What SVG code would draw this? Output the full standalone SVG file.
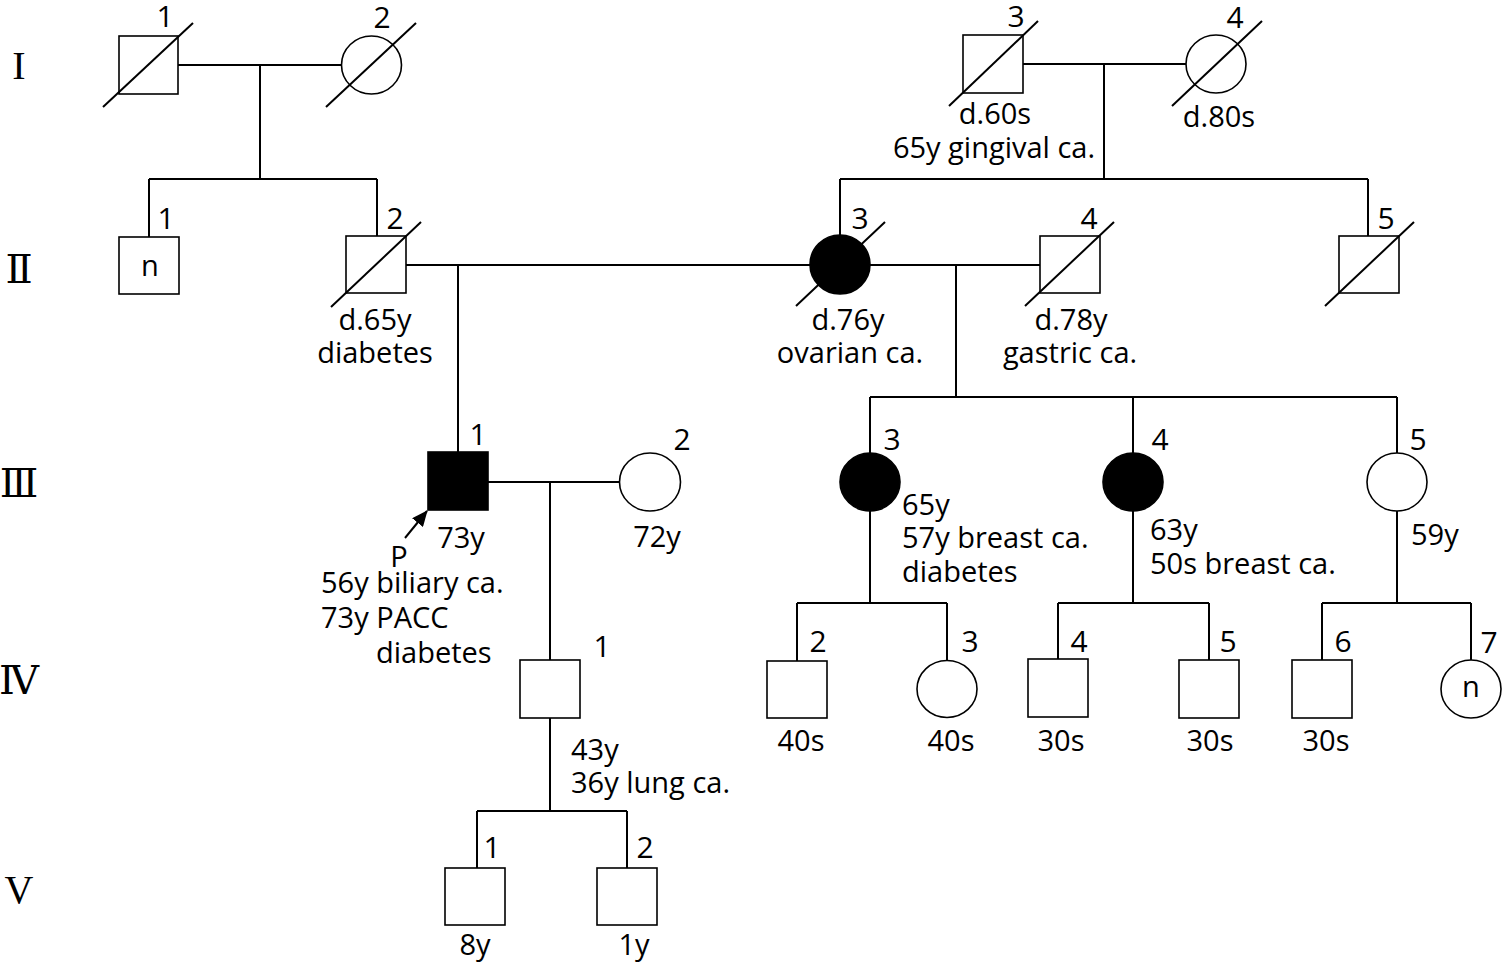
<svg xmlns="http://www.w3.org/2000/svg" width="1502" height="964" viewBox="0 0 1502 964">
<style>
.ln{stroke:#000;stroke-width:2;fill:none}
.sym{stroke:#000;stroke-width:1.6;fill:#fff}
.aff{stroke:#000;stroke-width:1.6;fill:#000}
.sl{stroke:#000;stroke-width:2}
.t{font-family:"Open Sans","Liberation Sans",sans-serif;font-size:29px;fill:#000}
.n{font-family:"Open Sans","Liberation Sans",sans-serif;font-size:30px;fill:#000;text-anchor:middle}
.m{text-anchor:middle}
.r{font-family:"Liberation Serif","DejaVu Serif",serif;font-size:40px;fill:#000;text-anchor:middle}
</style>
<defs>
<marker id="ah" markerWidth="16" markerHeight="14" refX="15" refY="7" orient="auto" markerUnits="userSpaceOnUse">
<path d="M0,0 L16,7 L0,14 z" fill="#000"/>
</marker>
</defs>
<rect width="1502" height="964" fill="#fff"/>
<g id="generations">
<text class="r" x="19" y="79">I</text>
<text class="r" x="19" y="283">Ⅱ</text>
<text class="r" x="19" y="497">Ⅲ</text>
<text class="r" x="19" y="694">Ⅳ</text>
<text class="r" x="19" y="903">V</text>
</g>
<g id="connectors">
<path class="ln" d="M178,65 H341 M260,65 V179 M149,179 H377 M149,179 V237 M377,179 V236"/>
<path class="ln" d="M1023,64 H1186 M1104,64 V179 M840,179 H1368 M840,179 V235 M1368,179 V236"/>
<path class="ln" d="M406,265 H810 M458,265 V452"/>
<path class="ln" d="M870,265 H1040 M956,265 V397 M870,397 H1397 M870,397 V453 M1133,397 V453 M1397,397 V453"/>
<path class="ln" d="M488,482 H620 M550,482 V660"/>
<path class="ln" d="M870,511 V603 M797,603 H947 M797,603 V661 M947,603 V660"/>
<path class="ln" d="M1133,511 V603 M1058,603 H1209 M1058,603 V659 M1209,603 V660"/>
<path class="ln" d="M1397,511 V603 M1322,603 H1471 M1322,603 V660 M1471,603 V660"/>
<path class="ln" d="M550,718 V811 M477,811 H627 M477,811 V868 M627,811 V868"/>
</g>
<g id="I-1"><rect class="sym" x="119" y="36" width="59" height="58"/><line class="sl" x1="103" y1="107" x2="193" y2="23"/><text class="n" x="165" y="27">1</text></g>
<g id="I-2"><ellipse class="sym" cx="371.5" cy="65" rx="30" ry="29"/><line class="sl" x1="326" y1="107" x2="416" y2="23"/><text class="n" x="382" y="28">2</text></g>
<g id="I-3"><rect class="sym" x="963" y="35" width="60" height="58"/><line class="sl" x1="949" y1="106" x2="1038" y2="21"/><text class="n" x="1016" y="27">3</text>
<text class="t m" x="995" y="124">d.60s</text><text class="t m" x="994" y="158">65y gingival ca.</text></g>
<g id="I-4"><ellipse class="sym" cx="1216" cy="64" rx="30" ry="29"/><line class="sl" x1="1172" y1="106" x2="1262" y2="21"/><text class="n" x="1235" y="28">4</text>
<text class="t m" x="1219" y="127">d.80s</text></g>
<g id="II-1"><rect class="sym" x="119" y="237" width="60" height="57"/><text class="t m" x="150" y="276">n</text><text class="n" x="166" y="229">1</text></g>
<g id="II-2"><rect class="sym" x="346" y="236" width="60" height="57"/><line class="sl" x1="331" y1="307" x2="421" y2="222"/><text class="n" x="395" y="229">2</text>
<text class="t m" x="375" y="330">d.65y</text><text class="t m" x="375" y="363">diabetes</text></g>
<g id="II-3"><ellipse class="aff" cx="840" cy="264.5" rx="30" ry="29.5"/><line class="sl" x1="796" y1="306" x2="885" y2="222"/><text class="n" x="860" y="229">3</text>
<text class="t m" x="848" y="330">d.76y</text><text class="t m" x="850" y="363">ovarian ca.</text></g>
<g id="II-4"><rect class="sym" x="1040" y="236" width="60" height="57"/><line class="sl" x1="1025" y1="306" x2="1114" y2="222"/><text class="n" x="1089" y="229">4</text>
<text class="t m" x="1071" y="330">d.78y</text><text class="t m" x="1070" y="363">gastric ca.</text></g>
<g id="II-5"><rect class="sym" x="1339" y="236" width="60" height="57"/><line class="sl" x1="1325" y1="306" x2="1414" y2="222"/><text class="n" x="1386" y="229">5</text></g>
<g id="III-1"><rect class="aff" x="428" y="452" width="60" height="58"/><text class="n" x="478" y="445">1</text>
<text class="t m" x="461" y="548">73y</text>
<line class="sl" x1="405" y1="538" x2="427" y2="511" marker-end="url(#ah)"/>
<text class="t m" x="399" y="567">P</text>
<text class="t" x="321" y="593">56y biliary ca.</text>
<text class="t" x="321" y="628">73y PACC</text>
<text class="t" x="376" y="663">diabetes</text></g>
<g id="III-2"><ellipse class="sym" cx="650" cy="482" rx="30.5" ry="29"/><text class="n" x="682" y="450">2</text><text class="t m" x="657" y="547">72y</text></g>
<g id="III-3"><ellipse class="aff" cx="870" cy="482" rx="30" ry="29"/><text class="n" x="892" y="450">3</text>
<text class="t" x="902" y="515">65y</text><text class="t" x="902" y="548">57y breast ca.</text><text class="t" x="902" y="582">diabetes</text></g>
<g id="III-4"><ellipse class="aff" cx="1133" cy="482" rx="30" ry="29"/><text class="n" x="1160" y="450">4</text>
<text class="t" x="1150" y="540">63y</text><text class="t" x="1150" y="574">50s breast ca.</text></g>
<g id="III-5"><ellipse class="sym" cx="1397" cy="482" rx="30" ry="29"/><text class="n" x="1418" y="450">5</text>
<text class="t" x="1411" y="545">59y</text></g>
<g id="IV-1"><rect class="sym" x="520" y="660" width="60" height="58"/><text class="n" x="602" y="657">1</text>
<text class="t" x="571" y="760">43y</text><text class="t" x="571" y="793">36y lung ca.</text></g>
<g id="IV-2"><rect class="sym" x="767" y="661" width="60" height="57"/><text class="n" x="818" y="652">2</text><text class="t m" x="801" y="751">40s</text></g>
<g id="IV-3"><ellipse class="sym" cx="947" cy="689" rx="30" ry="28.5"/><text class="n" x="970" y="652">3</text><text class="t m" x="951" y="751">40s</text></g>
<g id="IV-4"><rect class="sym" x="1028" y="659" width="60" height="58"/><text class="n" x="1079" y="652">4</text><text class="t m" x="1061" y="751">30s</text></g>
<g id="IV-5"><rect class="sym" x="1179" y="660" width="60" height="58"/><text class="n" x="1228" y="652">5</text><text class="t m" x="1210" y="751">30s</text></g>
<g id="IV-6"><rect class="sym" x="1292" y="660" width="60" height="58"/><text class="n" x="1343" y="652">6</text><text class="t m" x="1326" y="751">30s</text></g>
<g id="IV-7"><ellipse class="sym" cx="1471" cy="689" rx="30" ry="29"/><text class="t m" x="1471" y="697">n</text><text class="n" x="1489" y="653">7</text></g>
<g id="V-1"><rect class="sym" x="445" y="868" width="60" height="57"/><text class="n" x="492" y="858">1</text><text class="t m" x="475" y="955">8y</text></g>
<g id="V-2"><rect class="sym" x="597" y="868" width="60" height="57"/><text class="n" x="645" y="858">2</text><text class="t m" x="634" y="955">1y</text></g>
</svg>
